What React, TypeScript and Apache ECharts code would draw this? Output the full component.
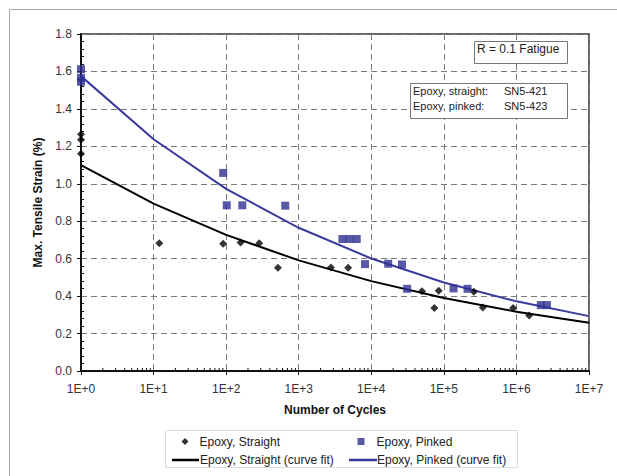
import React, { useEffect, useRef } from "react";
import * as echarts from "echarts";

const straightN = [1, 1, 1, 12, 91, 158, 286, 517, 2780, 4800, 50000, 74000, 85000, 259000, 344000, 900000, 1500000];
const straightS = [1.265, 1.235, 1.16, 0.682, 0.68, 0.687, 0.683, 0.551, 0.553, 0.551, 0.426, 0.337, 0.428, 0.423, 0.339, 0.337, 0.296];

const pinkedN = [1, 1, 1, 91, 102, 167, 652, 4000, 5000, 6300, 8200, 17100, 26500, 31200, 136000, 212000, 2170000, 2630000];
const pinkedS = [1.612, 1.565, 1.545, 1.058, 0.885, 0.885, 0.883, 0.705, 0.705, 0.705, 0.571, 0.573, 0.569, 0.439, 0.441, 0.439, 0.352, 0.352];

const fitN = [1, 10, 100, 1e3, 1e4, 1e5, 1e6, 1e7];
const straightFit = [1.1, 0.894, 0.727, 0.591, 0.48, 0.39, 0.317, 0.258];
const pinkedFit = [1.575, 1.238, 0.973, 0.765, 0.601, 0.473, 0.372, 0.293];

const yTicks = ["0.0", "0.2", "0.4", "0.6", "0.8", "1.0", "1.2", "1.4", "1.6", "1.8"];
const xTickLabels = ["1E+0", "1E+1", "1E+2", "1E+3", "1E+4", "1E+5", "1E+6", "1E+7"];

const NAME_S = "Epoxy, Straight";
const NAME_P = "Epoxy, Pinked";
const NAME_SF = "Epoxy, Straight (curve fit)";
const NAME_PF = "Epoxy, Pinked (curve fit)";

// minor tick positions on log axis (axis decoration)
const xMinorTicks: number[][] = [];
for (let d = 0; d < 7; d++) {
  for (let m = 2; m <= 9; m++) xMinorTicks.push([m * Math.pow(10, d), 0]);
}

const FONT = "'Liberation Sans', Arial, sans-serif";
const BLUE = "#2E3192";
const BLUE_LINE = "#3A3A9E";

export default function App() {
  const ref = useRef<HTMLDivElement>(null);
  useEffect(() => {
    const chart = echarts.init(ref.current!, null, { renderer: "svg" });
    const legendBase = {
      orient: "horizontal",
      padding: 0,
      selectedMode: false,
    };
    const ts = (pad: number) => ({ fontFamily: FONT, fontSize: 12, color: "#222", padding: [0, 0, 0, pad] });
    const option: any = {
      animation: false,
      backgroundColor: "#fff",
      textStyle: { fontFamily: FONT },
      grid: {
        left: 81, right: 28, top: 34, bottom: 105,
        show: true, borderColor: "#333", borderWidth: 1.5,
      },
      xAxis: [{
        type: "log", logBase: 10, min: 1, max: 1e7, splitNumber: 7,
        position: "bottom",
        axisLine: { lineStyle: { color: "#111", width: 2 } },
        axisTick: { length: 4, lineStyle: { color: "#111" } },
        axisLabel: {
          color: "#333", fontSize: 12, margin: 12, fontFamily: FONT,
          formatter: (v: number) => xTickLabels[Math.round(Math.log10(v))] ?? "",
        },
        splitLine: { show: true, lineStyle: { color: "#7a7a7a", type: [6, 4], width: 1 } },
        name: "Number of Cycles", nameLocation: "middle", nameGap: 33,
        nameTextStyle: { fontWeight: "bold", fontSize: 12, color: "#111", fontFamily: FONT },
      }],
      yAxis: [{
        type: "value", min: 0, max: 1.8, interval: 0.2, position: "left",
        axisLine: { show: true, lineStyle: { color: "#111", width: 2 } },
        axisTick: { show: true, length: 4, lineStyle: { color: "#111" } },
        axisLabel: {
          color: "#333", fontSize: 12, margin: 9, fontFamily: FONT,
          formatter: (v: number) => yTicks[Math.round(v / 0.2)] ?? "",
        },
        splitLine: { show: true, lineStyle: { color: "#7a7a7a", type: [6, 4], width: 1 } },
        name: "Max. Tensile Strain (%)", nameLocation: "middle", nameGap: 37,
        nameTextStyle: { fontWeight: "bold", fontSize: 12, color: "#111", fontFamily: FONT },
      }, {
        type: "value", min: 0, max: 1.8, interval: 0.2, position: "left", offset: 0,
        axisLine: { show: false },
        axisTick: { show: false, inside: true },
        minorTick: { show: true, splitNumber: 5, length: 3, lineStyle: { color: "#111" } },
        axisLabel: { show: false },
        splitLine: { show: false },
      }],
      legend: [
        { ...legendBase, data: [{ name: NAME_S, icon: "diamond", itemStyle: { color: "#000" } }], left: 181.5, top: 435.5, itemWidth: 7, itemHeight: 7, textStyle: ts(6) },
        { ...legendBase, data: [{ name: NAME_P, icon: "rect", itemStyle: { color: BLUE } }], left: 357.5, top: 435.5, itemWidth: 7, itemHeight: 7, textStyle: ts(7) },
        { ...legendBase, data: [{ name: NAME_SF, icon: "rect", itemStyle: { color: "#000" } }], left: 172, top: 454, itemWidth: 27, itemHeight: 2.5, textStyle: ts(-4) },
        { ...legendBase, data: [{ name: NAME_PF, icon: "rect", itemStyle: { color: BLUE_LINE } }], left: 349, top: 454, itemWidth: 28, itemHeight: 2.5, textStyle: ts(-5) },
      ],
      graphic: [
        { type: "rect", left: 7, top: 7, shape: { x: 0, y: 0, width: 640, height: 500 }, style: { fill: "none", stroke: "#a8a8a8", lineWidth: 1 }, silent: true, z: -10 },
        { type: "rect", shape: { x: 165.5, y: 430.5, width: 352, height: 37 }, style: { fill: "#fff", stroke: "#dcdcdc", lineWidth: 1 }, silent: true, z: -5 },
        { type: "rect", shape: { x: 474.5, y: 41.5, width: 93, height: 22 }, style: { fill: "#fff", stroke: "#777", lineWidth: 1 }, silent: true, z: 10 },
        { type: "text", x: 477, y: 49, style: { text: "R = 0.1 Fatigue", font: `12px ${FONT}`, fill: "#222", verticalAlign: "middle" }, silent: true, z: 11 },
        { type: "rect", shape: { x: 410.5, y: 83.5, width: 157, height: 35 }, style: { fill: "#fff", stroke: "#777", lineWidth: 1 }, silent: true, z: 10 },
        { type: "text", x: 413, y: 91, style: { text: "Epoxy, straight:", font: `11px ${FONT}`, fill: "#222", verticalAlign: "middle" }, silent: true, z: 11 },
        { type: "text", x: 504, y: 91, style: { text: "SN5-421", font: `11px ${FONT}`, fill: "#222", verticalAlign: "middle" }, silent: true, z: 11 },
        { type: "text", x: 413, y: 106, style: { text: "Epoxy, pinked:", font: `11px ${FONT}`, fill: "#222", verticalAlign: "middle" }, silent: true, z: 11 },
        { type: "text", x: 504, y: 106, style: { text: "SN5-423", font: `11px ${FONT}`, fill: "#222", verticalAlign: "middle" }, silent: true, z: 11 },
      ],
      series: [
        {
          type: "custom", silent: true, clip: false, z: 5,
          data: xMinorTicks,
          renderItem: (_p: any, api: any) => {
            const pt = api.coord([api.value(0), 0]);
            return { type: "line", shape: { x1: pt[0], y1: pt[1], x2: pt[0], y2: pt[1] - 3 }, style: { stroke: "#111", lineWidth: 1 } };
          },
        },
        {
          name: NAME_SF, type: "line", symbol: "none", showSymbol: false, smooth: false,
          data: fitN.map((n, i) => [n, straightFit[i]]),
          lineStyle: { color: "#000", width: 2 }, itemStyle: { color: "#000" }, z: 3,
        },
        {
          name: NAME_PF, type: "line", symbol: "none", showSymbol: false, smooth: false,
          data: fitN.map((n, i) => [n, pinkedFit[i]]),
          lineStyle: { color: BLUE_LINE, width: 2 }, itemStyle: { color: BLUE_LINE }, z: 3,
        },
        {
          name: NAME_S, type: "scatter", symbol: "diamond", symbolSize: 8, clip: false,
          data: straightN.map((n, i) => [n, straightS[i]]),
          itemStyle: { color: "#000" }, z: 4,
        },
        {
          name: NAME_P, type: "scatter", symbol: "rect", symbolSize: 8, clip: false,
          data: pinkedN.map((n, i) => [n, pinkedS[i]]),
          itemStyle: { color: BLUE }, z: 4,
        },
      ],
    };
    chart.setOption(option);
    return () => chart.dispose();
  }, []);
  return (
    <div
      ref={ref}
      style={{ position: "fixed", left: 0, top: 0, width: 617, height: 476, background: "#fff" }}
    />
  );
}
